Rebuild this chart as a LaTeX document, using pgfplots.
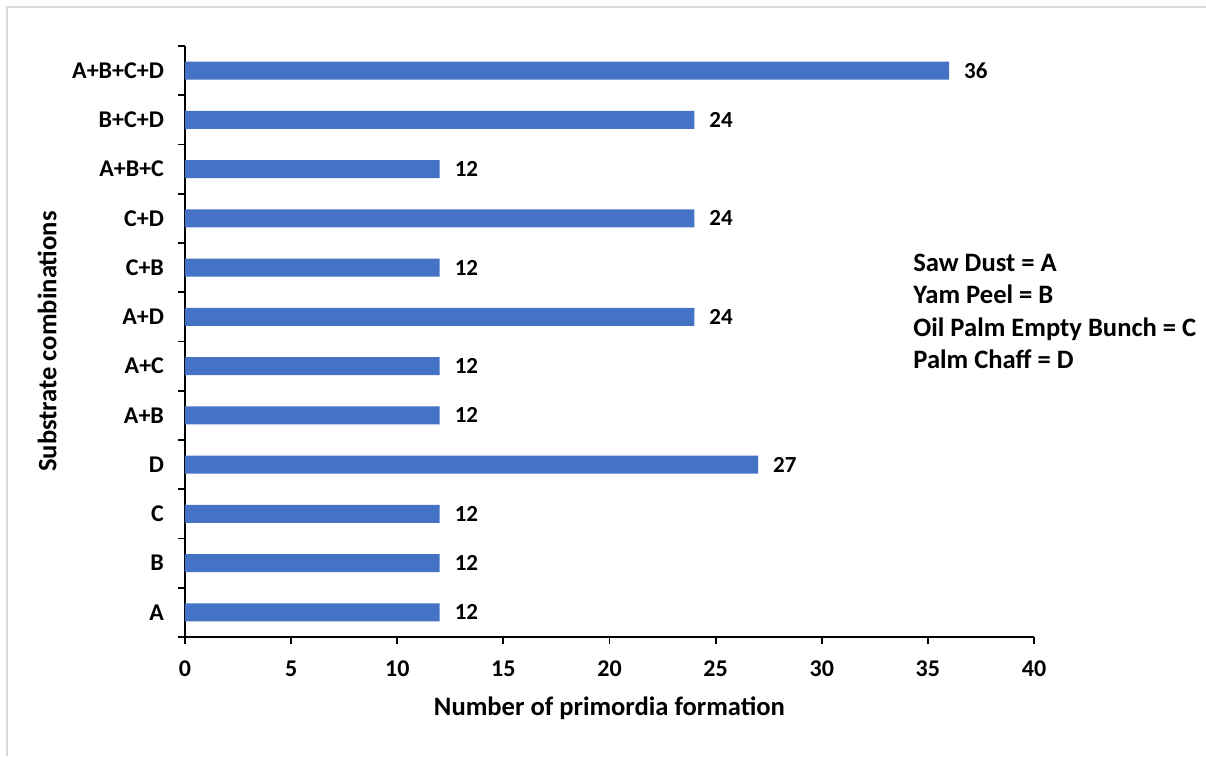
\documentclass[border=0pt]{standalone}
\usepackage{pgfplots}
\pgfplotsset{compat=1.18}
\usepackage{fontspec}
\setmainfont{Carlito}
\definecolor{barblue}{HTML}{4472C4}
\begin{document}
\begin{tikzpicture}[x=0.5pt,y=0.5pt]
\useasboundingbox (0,0) rectangle (1206,756);
\draw[black!15, line width=1pt] (7,0) -- (7,749) -- (1206,749);
\begin{axis}[
  at={(92.5pt,59.5pt)}, anchor=south west,
  width=424.5pt, height=295.5pt, scale only axis,
  xmin=0, xmax=40, xtick={0,5,...,40},
  ymin=-0.5, ymax=11.5,
  ytick={-0.5,0.5,...,11.5}, yticklabels={},
  extra y ticks={0,1,2,3,4,5,6,7,8,9,10,11},
  extra y tick labels={A,B,C,D,A+B,A+C,A+D,C+B,C+D,A+B+C,B+C+D,A+B+C+D},
  extra y tick style={major tick length=0pt, grid=none},
  axis lines*=left,
  axis line style={black, line width=0.9pt},
  tick style={black, line width=0.9pt},
  tick align=outside, major tick length=3.5pt,
  xbar, bar width=9pt,
  /pgf/number format/assume math mode=true,
  tick label style={font=\bfseries\fontsize{12}{14}\selectfont},
  yticklabel style={xshift=-7pt},
  xticklabel style={yshift=-5pt},
  every axis y label/.style={at={(axis description cs:-0.1625,0.5)}, rotate=90, anchor=center, font=\bfseries\fontsize{13.3}{16}\selectfont},
  every axis x label/.style={at={(axis description cs:0.5,-0.120)}, anchor=center, font=\bfseries\fontsize{13.3}{16}\selectfont},
  xlabel={Number of primordia formation},
  ylabel={Substrate combinations},
  nodes near coords,
  every node near coord/.append style={font=\bfseries\fontsize{11.5}{13}\selectfont, anchor=west, xshift=4pt, black},
  clip=false,
]
\addplot[fill=barblue, draw=none] coordinates {
 (12,0) (12,1) (12,2) (27,3) (12,4) (12,5) (24,6) (12,7) (24,8) (12,9) (24,10) (36,11)};
\end{axis}
\begin{scope}[every node/.style={anchor=base west, inner sep=0pt, font=\bfseries\fontsize{13.3}{16}\selectfont}]
\node at (913,484) {Saw Dust = A};
\node at (913,452) {Yam Peel = B};
\node at (913,419.5) {Oil Palm Empty Bunch = C};
\node at (913,387) {Palm Chaff = D};
\end{scope}
\end{tikzpicture}
\end{document}
